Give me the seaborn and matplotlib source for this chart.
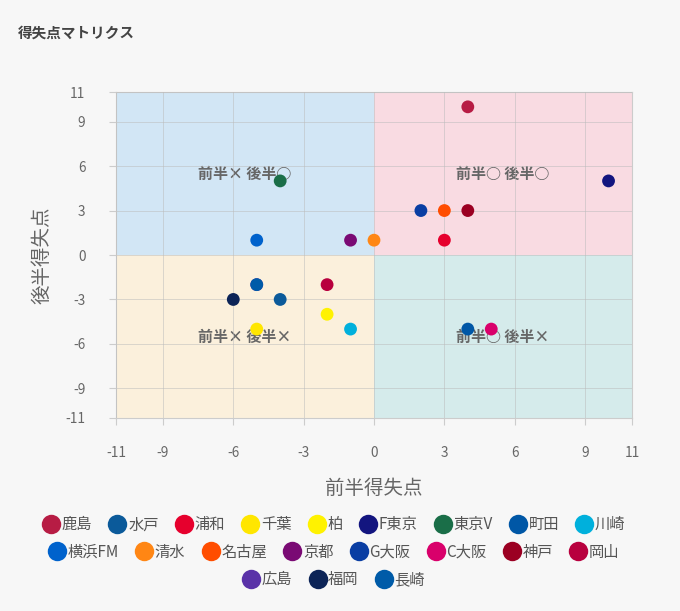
import matplotlib
matplotlib.use("Agg")
import matplotlib.pyplot as plt
from matplotlib.lines import Line2D
import seaborn as sns
import pandas as pd

teams = ["鹿島", "水戸", "浦和", "千葉", "柏", "F東京", "東京V", "町田", "川崎",
         "横浜FM", "清水", "名古屋", "京都", "G大阪", "C大阪", "神戸", "岡山",
         "広島", "福岡", "長崎"]
first_half = [4, -4, 3, -5, -2, 10, -4, 4, -1, -5, 0, 3, -1, 2, 5, 4, -2, -5, -6, -5]
second_half = [10, -3, 1, -5, -4, 5, 5, -5, -5, 1, 1, 3, 1, 3, -5, 3, -2, -2, -3, -2]
colors = ["#b71c44", "#0b5a9a", "#e6002d", "#ffe600", "#fff200", "#13157f", "#1a6e48",
          "#0057a6", "#00b0dc", "#0062cc", "#ff8614", "#ff4d00", "#7a0a74", "#0a3ea3",
          "#d9006b", "#9b0022", "#b8003e", "#5a32a8", "#0c2457", "#005ba8"]
ticks = [-11, -9, -6, -3, 0, 3, 6, 9, 11]
quad_labels = ["前半× 後半○", "前半○ 後半○", "前半× 後半×", "前半○ 後半×"]
quad_pos = [(-5.5, 5.5), (5.5, 5.5), (-5.5, -5.5), (5.5, -5.5)]
quad_colors = ["#d2e6f5", "#f9dbe2", "#fbf0dc", "#d5ebeb"]

sns.set_theme(style="white")
plt.rcParams['font.family'] = ['Noto Sans CJK JP', 'DejaVu Sans']

df = pd.DataFrame({"team": teams, "x": first_half, "y": second_half})
palette = dict(zip(teams, colors))

fig = plt.figure(figsize=(6.8, 6.11), dpi=100, facecolor="#f7f7f7")
ax = fig.add_axes([0.1706, 0.3159, 0.7588, 0.5335])
ax.set_facecolor("#f7f7f7")

ax.axvspan(-11, 0, ymin=0.5, ymax=1, color=quad_colors[0], lw=0, zorder=0)
ax.axvspan(0, 11, ymin=0.5, ymax=1, color=quad_colors[1], lw=0, zorder=0)
ax.axvspan(-11, 0, ymin=0, ymax=0.5, color=quad_colors[2], lw=0, zorder=0)
ax.axvspan(0, 11, ymin=0, ymax=0.5, color=quad_colors[3], lw=0, zorder=0)

for lab, (qx, qy) in zip(quad_labels, quad_pos):
    ax.text(qx, qy, lab, ha="center", va="center", fontsize=10.8, fontweight="bold",
            color="#666666", zorder=2)

sns.scatterplot(data=df, x="x", y="y", hue="team", palette=palette, s=85,
                edgecolor="none", legend=False, ax=ax, zorder=3)

ax.set_xlim(-11, 11)
ax.set_ylim(-11, 11)
ax.set_xticks(ticks)
ax.set_yticks(ticks)
ax.set_xticklabels([str(t) for t in ticks])
ax.set_yticklabels([str(t) for t in ticks])
ax.grid(True, color="#bbbbbb", lw=0.6, alpha=0.6, zorder=1)
ax.set_axisbelow(False)
for sp in ax.spines.values():
    sp.set_color("#cccccc")
    sp.set_linewidth(0.8)
ax.tick_params(axis="both", which="both", length=5, width=0.8, color="#cccccc",
               labelsize=9.8, labelcolor="#666666", direction="out",
               bottom=True, left=True)
ax.tick_params(axis="x", pad=15)
ax.tick_params(axis="y", pad=17)
ax.set_xlabel("前半得失点", fontsize=14, color="#666666", labelpad=13)
ax.set_ylabel("後半得失点", fontsize=14, color="#666666", labelpad=9)

fig.text(0.026, 0.947, "得失点マトリクス", fontsize=10.5, fontweight="bold", color="#444444",
         ha="left", va="center")

def handles_for(names):
    return [Line2D([0], [0], marker="o", linestyle="", markersize=14,
                   markerfacecolor=palette[n], markeredgecolor="none", label=n)
            for n in names]

rows = [teams[0:9], teams[9:17], teams[17:]]
row_y = [0.141, 0.096, 0.051]
for names, yy in zip(rows, row_y):
    fig.legend(handles=handles_for(names), loc="center", bbox_to_anchor=(0.49, yy),
               ncol=len(names), frameon=False, fontsize=11, handletextpad=0.05,
               columnspacing=1.0, handlelength=1.3, labelcolor="#555555")

fig.savefig("out.png", dpi=100, facecolor=fig.get_facecolor())
